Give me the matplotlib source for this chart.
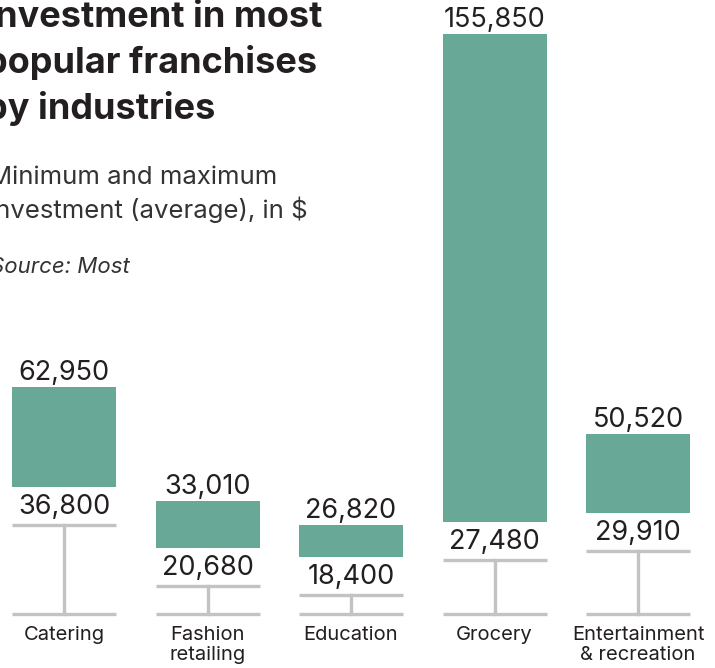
import matplotlib.pyplot as plt
from matplotlib.patches import Rectangle

plt.rcParams['font.family'] = ['Inter', 'DejaVu Sans']

industries = ["Catering", "Fashion\nretailing", "Education", "Grocery", "Entertainment\n& recreation"]
min_invest = [36800, 20680, 18400, 27480, 29910]
max_invest = [62950, 33010, 26820, 155850, 50520]

bar_color = "#67a896"
line_color = "#c3c3c6"
text_color = "#231f20"

# figure is 715 x 668 px; one pixel of height is ~263 dollars
px = 263.05
W, H = 715, 668

fig = plt.figure(figsize=(W / 100, H / 100), dpi=100)
ax = fig.add_axes([0, 0, 1, 1])
ax.set_xlim(-64 / 143.5, (W - 64) / 143.5)
ax.set_ylim(-41.5 * px, (H - 41.5) * px)
ax.axis("off")

bw = 104 / 143.5
base = 3300
for i, (lo, hi, name) in enumerate(zip(min_invest, max_invest, industries)):
    ax.add_patch(Rectangle((i - bw / 2, lo), bw, hi - lo, color=bar_color, lw=0))
    ax.text(i, hi + 14 * px, f"{hi:,}", ha="center", va="center",
            fontsize=19.5, color=text_color)
    tick = lo - 38 * px
    ax.text(i, lo - 20 * px, f"{lo:,}", ha="center", va="center",
            fontsize=19.5, color=text_color)
    ax.plot([i - bw / 2, i + bw / 2], [tick, tick], color=line_color, lw=2.4,
            solid_capstyle="butt")
    ax.plot([i, i], [tick, base], color=line_color, lw=2.4)
    ax.plot([i - bw / 2, i + bw / 2], [base, base], color=line_color, lw=2.4,
            solid_capstyle="butt")
    ax.text(i, 1 * px, name, ha="center", va="top", fontsize=14.5,
            color=text_color, linespacing=1.2)

fig.text(-15 / W, 1 - 1 / H, "Investment in most\npopular franchises\nby industries",
         ha="left", va="top", fontsize=26, fontweight="bold",
         color=text_color, linespacing=1.4)
fig.text(-11 / W, 1 - 166 / H, "Minimum and maximum\ninvestment (average), in $",
         ha="left", va="top", fontsize=18.5, color="#333333",
         linespacing=1.35)
fig.text(-10 / W, 1 - 257 / H, "Source: Most", ha="left", va="top",
         fontsize=16, style="italic", color="#333333")

fig.savefig("out.png", dpi=100)
